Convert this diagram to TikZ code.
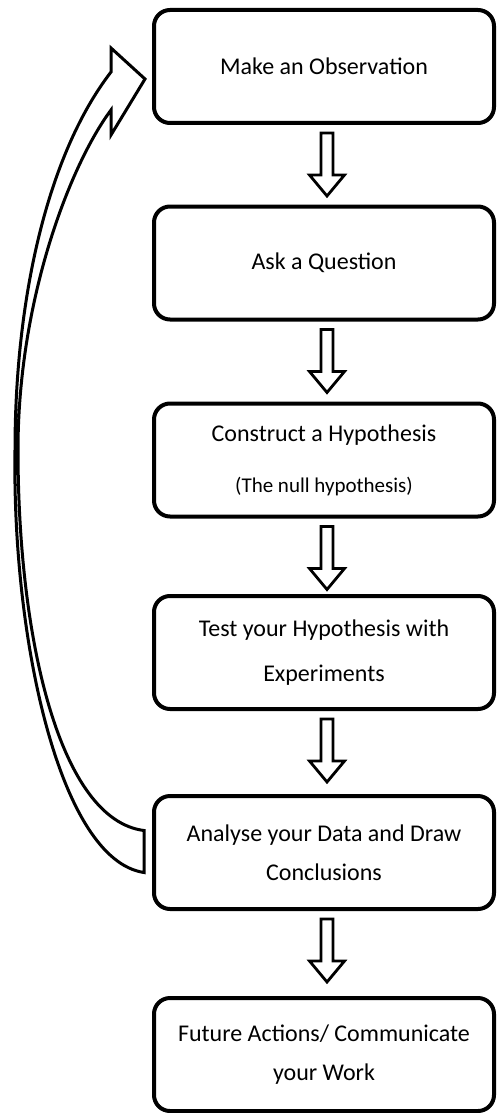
\documentclass[tikz,border=0pt]{standalone}
\usepackage{fontspec}
\setmainfont{Carlito}
\usetikzlibrary{calc}
\newcommand{\blockdown}[2]{%
  \draw[downarr] ($(#1.south)+(-3,8)$) -- ++(0,42) -- ++(-11.5,0) -- ++(17.5,21) -- ++(17.5,-21) -- ++(-11.5,0) -- ++(0,-42) -- cycle;}
\begin{document}
\begin{tikzpicture}[x=1pt,y=-1pt,
  box/.style={draw=black, line width=4pt, rounded corners=16pt, minimum width=340pt,
    minimum height=113pt, align=center, inner sep=0pt, fill=white,
    font=\fontsize{24}{39}\selectfont},
  downarr/.style={draw=black, line width=2.8pt, fill=white, line join=miter},
  loopback/.style={draw=black, line width=3pt, fill=white, line join=miter}]
\useasboundingbox (0,0) rectangle (496,1113);

\node[box] (b1) at (324,66.5) {Make an Observation};
\node[box] (b2) at (324,263) {Ask a Question};
\node[box] (b3) at (324,460) {Construct a Hypothesis\\[12pt]\fontsize{21}{24}\selectfont (The null hypothesis)};
\node[box] (b4) at (324,652.5) {Test your Hypothesis with\\[6pt]Experiments};
\node[box] (b5) at (324,852.5) {Analyse your Data and Draw\\Conclusions};
\node[box] (b6) at (324,1054.5) {Future Actions/ Communicate\\your Work};

\blockdown{b1}{b2}
\blockdown{b2}{b3}
\blockdown{b3}{b4}
\blockdown{b4}{b5}
\blockdown{b5}{b6}

\draw[loopback] ($(b5.west)+(-8,20)$) coordinate (tailB)
  .. controls (60,860) and (12,640) .. (15,450)
  .. controls (15,300) and (47,155) .. ($(b1.west)+(-41,5.5)$) coordinate (notchU)
  -- ($(b1.west)+(-41,-18.5)$) coordinate (barbU)
  -- ($(b1.west)+(-7,12.5)$) coordinate (tip)
  -- ($(b1.west)+(-41,68.5)$) coordinate (barbL)
  -- ($(b1.west)+(-41,43.5)$) coordinate (notchL)
  .. controls (70,165) and (18,300) .. (18,450)
  .. controls (18,640) and (60,820) .. ($(b5.west)+(-8,-22)$) coordinate (tailA)
  -- cycle;
\end{tikzpicture}
\end{document}
